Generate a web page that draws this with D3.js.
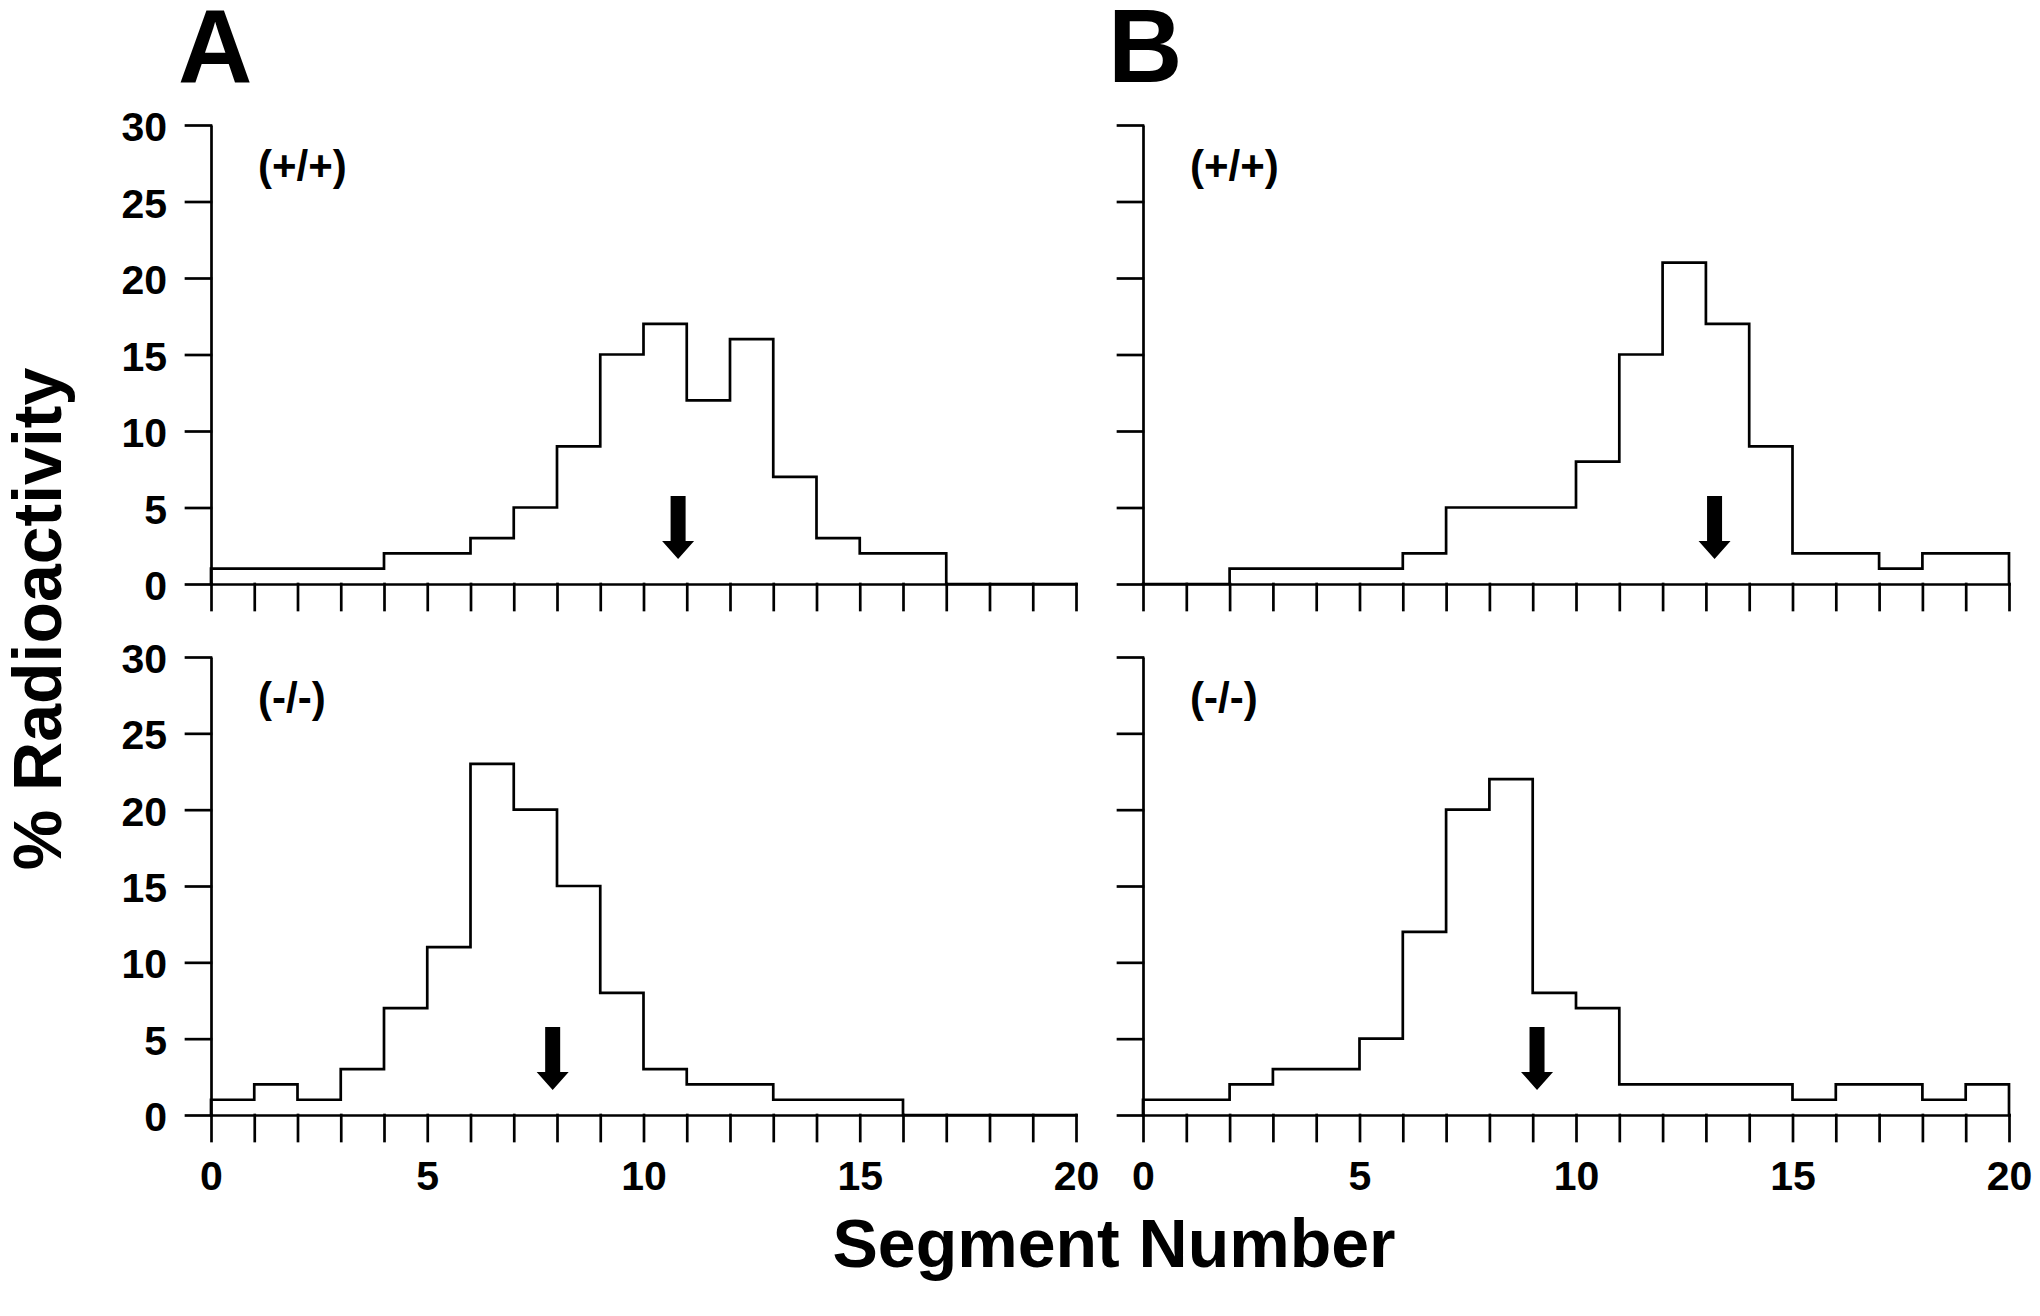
<!DOCTYPE html>
<html>
<head>
<meta charset="utf-8">
<script src="https://cdn.jsdelivr.net/npm/d3@7"></script>
<style>
  html, body { margin: 0; padding: 0; background: #fff; }
  svg { display: block; }
  text { font-family: "Liberation Sans", Arial, Helvetica, sans-serif; font-weight: bold; fill: #000; }
</style>
</head>
<body>
<svg id="chart" width="2040" height="1316"></svg>
<script>
// ---- Data ----
const segments = d3.range(0, 20);                 // segment bins 0..19 (each spans i..i+1)
const xTickValues = d3.range(0, 21);             // tick at every segment boundary
const xTickLabels = [0, 5, 10, 15, 20];
const yTickValues = [0, 5, 10, 15, 20, 25, 30];
const panelLetters = ["A", "B"];
const genotypes = ["(+/+)", "(-/-)"];

const valuesAWild = [1,1,1,1,2,2,3,5,9,15,17,12,16,7,3,2,2,0,0,0];
const valuesBWild = [0,0,1,1,1,1,2,5,5,5,8,15,21,17,9,2,2,1,2,2];
const valuesAKO   = [1,2,1,3,7,11,23,20,15,8,3,2,2,1,1,1,0,0,0,0];
const valuesBKO   = [1,1,2,3,3,5,12,20,22,8,7,2,2,2,2,1,2,2,1,2];

const arrowAWild = 10.8;
const arrowBWild = 13.2;
const arrowAKO   = 7.9;
const arrowBKO   = 9.1;

const yTitle = "% Radioactivity";
const xTitle = "Segment Number";

// ---- Layout ----
const svg = d3.select("#chart");
const colX = [{x0: 211, x1: 1076}, {x0: 1143, x1: 2009}];
const rowY = [{y0: 584, y1: 125}, {y0: 1115, y1: 657}];
const SW = 2.7;

const panels = [
  {col: 0, row: 0, values: valuesAWild, arrow: arrowAWild, label: genotypes[0]},
  {col: 1, row: 0, values: valuesBWild, arrow: arrowBWild, label: genotypes[0]},
  {col: 0, row: 1, values: valuesAKO,   arrow: arrowAKO,   label: genotypes[1]},
  {col: 1, row: 1, values: valuesBKO,   arrow: arrowBKO,   label: genotypes[1]},
];

panels.forEach(p => {
  const x = d3.scaleLinear().domain([0, 20]).range([colX[p.col].x0, colX[p.col].x1]);
  const y = d3.scaleLinear().domain([0, 30]).range([rowY[p.row].y0, rowY[p.row].y1]);
  const g = svg.append("g");

  // y axis
  const yAxis = d3.axisLeft(y).tickValues(yTickValues).tickSize(25).tickSizeOuter(0).tickPadding(19)
    .tickFormat(p.col === 0 ? d3.format("d") : () => "");
  const ya = g.append("g").attr("transform", `translate(${x(0)},0)`).call(yAxis);

  // x axis
  const xAxis = d3.axisBottom(x).tickValues(xTickValues).tickSize(26).tickSizeOuter(0).tickPadding(20)
    .tickFormat(d => (p.row === 1 && xTickLabels.includes(d)) ? d : "");
  const xa = g.append("g").attr("transform", `translate(0,${y(0)})`).call(xAxis);

  [ya, xa].forEach(a => {
    a.selectAll("path, line").attr("stroke", "#000").attr("stroke-width", SW).attr("stroke-linecap", "square");
    a.selectAll("text").style("font-size", "41px").attr("fill", "#000");
  });
  ya.select(".domain").attr("stroke-linecap", "butt");
  ya.selectAll("text").attr("dy", "0.38em");

  // step histogram
  const pts = [{s: 0, v: 0}];
  segments.forEach(i => pts.push({s: i, v: p.values[i]}));
  pts.push({s: 20, v: p.values[19]});
  pts.push({s: 20, v: 0});
  const line = d3.line().x(d => x(d.s)).y(d => y(d.v)).curve(d3.curveStepAfter);
  g.append("path").datum(pts).attr("d", line)
    .attr("fill", "none").attr("stroke", "#000").attr("stroke-width", SW)
    .attr("stroke-linejoin", "miter").attr("stroke-linecap", "square");

  // arrow
  const ax = x(p.arrow), tip = y(0) - 25;
  const sw = 7.5, hw = 16, hh = 18, len = 63;
  g.append("path")
    .attr("d", `M${ax - sw},${tip - len} L${ax + sw},${tip - len} L${ax + sw},${tip - hh} L${ax + hw},${tip - hh} L${ax},${tip} L${ax - hw},${tip - hh} L${ax - sw},${tip - hh} Z`)
    .attr("fill", "#000");

  // genotype label
  g.append("text").attr("x", x(0) + 47).attr("y", y(30) + 55)
    .style("font-size", "42px").text(p.label);
});

// panel letters
svg.append("text").attr("x", 178).attr("y", 82).style("font-size", "103px").text(panelLetters[0]);
svg.append("text").attr("x", 1108).attr("y", 82).style("font-size", "103px").text(panelLetters[1]);

// axis titles
svg.append("text").attr("transform", "translate(61,619) rotate(-90)")
  .attr("text-anchor", "middle").style("font-size", "68px").text(yTitle);
svg.append("text").attr("x", 1114).attr("y", 1267)
  .attr("text-anchor", "middle").style("font-size", "68px").text(xTitle);
</script>
</body>
</html>
